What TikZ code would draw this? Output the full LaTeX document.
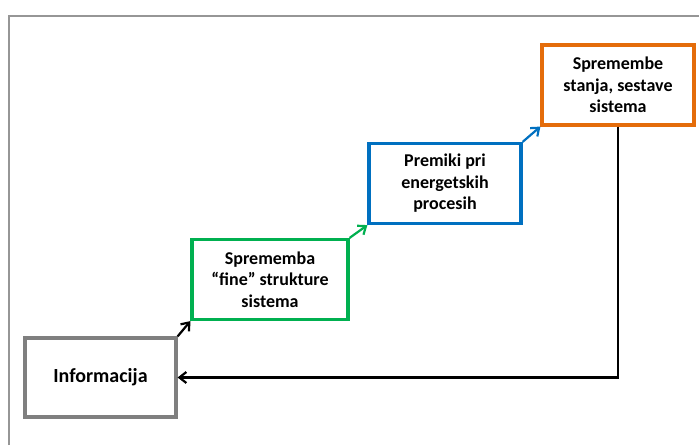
\documentclass[tikz,border=0pt]{standalone}
\usepackage{fontspec}
\setmainfont{Carlito}
\usetikzlibrary{arrows.meta}

\definecolor{boxgray}{RGB}{127,127,127}
\definecolor{boxgreen}{RGB}{0,176,80}
\definecolor{boxblue}{RGB}{0,112,192}
\definecolor{boxorange}{RGB}{228,108,10}
\definecolor{framegray}{RGB}{150,150,150}

\begin{document}
\begin{tikzpicture}[x=1pt, y=-1pt,
    stepbox/.style={line width=3.2pt, fill=white, text=black, align=center,
        inner sep=0pt, font=\fontsize{18}{21.5}\selectfont\bfseries},
    link/.style={line width=2.2pt, -{Straight Barb[length=7pt, width=11pt]}}]

    \useasboundingbox (0, 0) rectangle (699, 445);

    \draw[color=framegray, line width=2pt] (9, 445) -- (9, 16) -- (699, 16);

    \node[stepbox, draw=boxgray, minimum width=151pt, minimum height=79pt,
        font=\fontsize{20}{24}\selectfont\bfseries] (info) at (100.5, 377.5) {Informacija};
    \node[stepbox, draw=boxgreen, minimum width=156pt, minimum height=80pt] (fine) at (270, 279.5) {Sprememba\\``fine'' strukture\\sistema};
    \node[stepbox, draw=boxblue, minimum width=152pt, minimum height=80pt] (premiki) at (445, 183.5) {Premiki pri\\energetskih\\procesih};
    \node[stepbox, draw=boxorange, minimum width=152pt, minimum height=80pt] (stanje) at (618, 85) {Spremembe\\stanja, sestave\\sistema};

    \draw[link, color=black] (info.north east) -- (fine.south west);
    \draw[link, color=boxgreen] (fine.north east) -- (premiki.south west);
    \draw[link, color=boxblue] (premiki.north east) -- (stanje.south west);

    \draw[link, color=black] (stanje.south) |- (info.east);

\end{tikzpicture}
\end{document}
